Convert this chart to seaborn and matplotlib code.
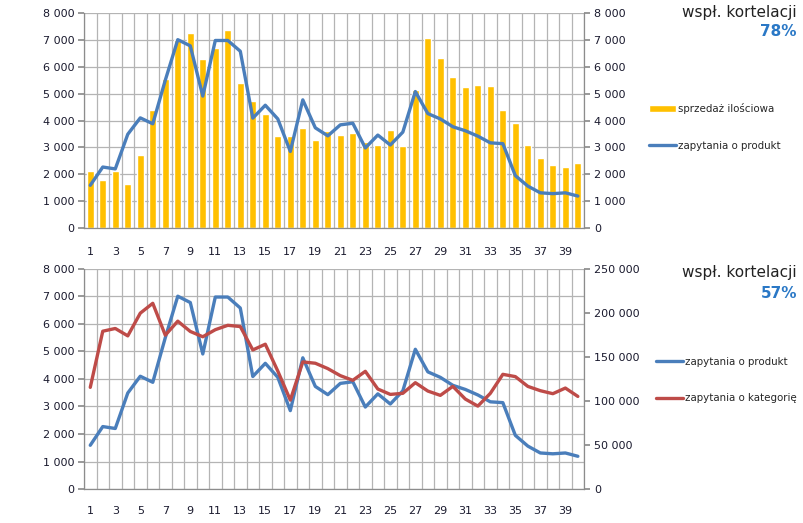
import matplotlib
matplotlib.use("Agg")
from matplotlib import pyplot as plt
from matplotlib.ticker import FuncFormatter
import numpy as np
import pandas as pd
import seaborn as sns

# week numbers 1..40
tydzien = list(range(1, 41))

# sales (bars, top chart)
sprzedaz = [2130, 1800, 2130, 1650, 2730, 4400, 5540, 7010, 7250, 6280,
            6690, 7360, 5400, 4730, 4250, 3430, 3430, 3730, 3280, 3620,
            3470, 3540, 3210, 3100, 3650, 3060, 5140, 7060, 6320, 5620,
            5250, 5320, 5280, 4400, 3910, 3100, 2620, 2360, 2280, 2430]

# product queries (blue line, both charts)
zap_produkt = [1590, 2270, 2200, 3490, 4100, 3880, 5500, 7010, 6780, 4910,
               6980, 6980, 6580, 4090, 4570, 4060, 2850, 4770, 3730, 3430,
               3840, 3900, 2980, 3460, 3090, 3570, 5080, 4260, 4060, 3770,
               3620, 3420, 3170, 3140, 1950, 1560, 1310, 1280, 1310, 1190]

# category queries (red line, bottom chart, right axis)
zap_kategoria = [115500, 179300, 182400, 174000, 199800, 211000, 174800, 190700,
                 179000, 173000, 181000, 186000, 184600, 158000, 164500, 134000,
                 101000, 144400, 142900, 136800, 128800, 123500, 133700, 113600,
                 107500, 108700, 120800, 111300, 106400, 116600, 102200, 94200,
                 108700, 130300, 127700, 116600, 111700, 108300, 114700, 105200]

df = pd.DataFrame({"tydzien": tydzien, "sprzedaz": sprzedaz,
                   "produkt": zap_produkt, "kategoria": zap_kategoria})
df["pos"] = np.arange(len(df))

ZOLTY = "#FFC000"
NIEBIESKI = "#4A7EBB"
CZERWONY = "#BE4B48"
SIATKA = "#B4B4B4"
OS = "#8C8C8C"
TEKST = "#1A1A2E"

sns.set_theme(style="white")
plt.rcParams['font.family'] = ['DejaVu Sans']

fmt = FuncFormatter(lambda v, p: f"{int(v):,}".replace(",", " "))

fig = plt.figure(figsize=(8.04, 5.23), dpi=100)
ax1 = fig.add_axes([0.1045, 0.564, 0.622, 0.411])
ax2 = fig.add_axes([0.1045, 0.065, 0.622, 0.4207])


def styl_osi(ax, ymax, step, pad):
    ax.set_xlim(-0.5, 39.5)
    ax.set_ylim(0, ymax)
    ax.set_yticks(np.arange(0, ymax + 1, step))
    ax.yaxis.set_major_formatter(fmt)
    ax.set_xticks(np.arange(0, 40, 2))
    ax.set_xticklabels([str(t) for t in tydzien[::2]])
    ax.set_xticks(np.arange(-0.5, 40, 1), minor=True)
    ax.grid(False)
    ax.grid(which="minor", axis="x", color=SIATKA, lw=0.9)
    ax.grid(which="major", axis="y", color=SIATKA, lw=0.9)
    ax.tick_params(axis="x", which="major", length=0, pad=pad, labelsize=8, labelcolor=TEKST)
    ax.tick_params(axis="x", which="minor", length=4, color=OS, direction="out")
    ax.tick_params(axis="y", which="major", length=4, color=OS, direction="out",
                   labelsize=8, labelcolor=TEKST, pad=3)
    ax.set_axisbelow(True)
    for s in ["top", "right"]:
        ax.spines[s].set_visible(False)
    for s in ["left", "bottom"]:
        ax.spines[s].set_color(OS)
        ax.spines[s].set_linewidth(0.9)
    ax.set_xlabel("")
    ax.set_ylabel("")


def styl_prawej(ax, ymax, step):
    ax.set_ylim(0, ymax)
    ax.set_yticks(np.arange(0, ymax + 1, step))
    ax.yaxis.set_major_formatter(fmt)
    ax.grid(False)
    ax.tick_params(axis="y", length=4, color=OS, direction="out",
                   labelsize=8, labelcolor=TEKST, pad=3)
    for s in ["top", "left", "bottom"]:
        ax.spines[s].set_visible(False)
    ax.spines["right"].set_color(OS)
    ax.spines["right"].set_linewidth(0.9)
    ax.set_ylabel("")


# --- top chart: sales bars + product queries ---
sns.barplot(data=df, x="pos", y="sprzedaz", color=ZOLTY, width=0.55,
            saturation=1, ax=ax1, label="sprzedaż ilościowa")
styl_osi(ax1, 8000, 1000, pad=14)
ax1r = ax1.twinx()
sns.lineplot(data=df, x="pos", y="produkt", color=NIEBIESKI, lw=2.4,
             ax=ax1r, label="zapytania o produkt")
ax1r.legend_.remove()
styl_prawej(ax1r, 8000, 1000)
ax1r.set_xlim(-0.5, 39.5)

h1, l1 = ax1.get_legend_handles_labels()
h2, l2 = ax1r.get_legend_handles_labels()
if ax1.legend_ is not None:
    ax1.legend_.remove()
fig.legend(h1 + h2, l1 + l2, loc="center left", bbox_to_anchor=(644 / 804, 1 - 127 / 523),
           frameon=False, fontsize=7.4, labelspacing=2.6, handlelength=2.6,
           handletextpad=0.2, borderpad=0)

# --- bottom chart: product queries vs category queries ---
sns.lineplot(data=df, x="pos", y="produkt", color=NIEBIESKI, lw=2.4,
             ax=ax2, label="zapytania o produkt")
ax2.legend_.remove()
styl_osi(ax2, 8000, 1000, pad=12)
ax2r = ax2.twinx()
sns.lineplot(data=df, x="pos", y="kategoria", color=CZERWONY, lw=2.4,
             ax=ax2r, label="zapytania o kategorię")
ax2r.legend_.remove()
styl_prawej(ax2r, 250000, 50000)
ax2r.set_xlim(-0.5, 39.5)

h1, l1 = ax2.get_legend_handles_labels()
h2, l2 = ax2r.get_legend_handles_labels()
fig.legend(h1 + h2, l1 + l2, loc="center left", bbox_to_anchor=(651 / 804, 1 - 380 / 523),
           frameon=False, fontsize=7.4, labelspacing=2.6, handlelength=2.6,
           handletextpad=0.2, borderpad=0)

# correlation annotations
fig.text(797 / 804, 1 - 13 / 523, "wspł. kortelacji", ha="right", va="center",
         fontsize=11, color="#222222")
fig.text(797 / 804, 1 - 32 / 523, "78%", ha="right", va="center",
         fontsize=11, fontweight="bold", color="#2A78C6")
fig.text(797 / 804, 1 - 273 / 523, "wspł. kortelacji", ha="right", va="center",
         fontsize=11, color="#222222")
fig.text(797 / 804, 1 - 293 / 523, "57%", ha="right", va="center",
         fontsize=11, fontweight="bold", color="#2A78C6")

fig.savefig("out.png", dpi=100)
